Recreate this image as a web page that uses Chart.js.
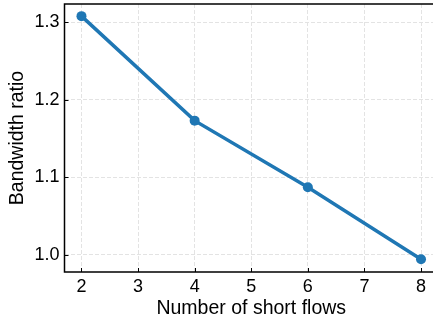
<!DOCTYPE html>
<html>
<head>
<meta charset="utf-8">
<script src="https://cdn.jsdelivr.net/npm/chart.js@4"></script>
<style>
  html, body { margin: 0; padding: 0; overflow: hidden; background: #fff; }
  #wrap { width: 433px; height: 320px; overflow: hidden; }
  canvas { display: block; }
</style>
</head>
<body>
<div id="wrap"><canvas id="flow_chart" width="440" height="320"></canvas></div>
<script>
// data
var shortFlows = [2, 4, 6, 8];
var bandwidthRatio = [1.308, 1.173, 1.087, 0.994];
var xTicks = [2, 3, 4, 5, 6, 7, 8];
var yTicks = [1.0, 1.1, 1.2, 1.3];

var lineColor = '#1f77b4';
var font = 'Arial, "Liberation Sans", sans-serif';

// inward ticks + the box spines, drawn from the chart's own scales
var framePlugin = {
  id: 'frame',
  afterDraw: function (chart) {
    var c = chart.ctx, a = chart.chartArea;
    var xs = chart.scales.x, ys = chart.scales.y;
    c.save();
    c.strokeStyle = '#000';
    c.lineWidth = 1;
    xTicks.forEach(function (v) {
      var px = Math.round(xs.getPixelForValue(v)) + 0.5;
      c.beginPath(); c.moveTo(px, a.bottom); c.lineTo(px, a.bottom - 4); c.stroke();
    });
    yTicks.forEach(function (v) {
      var py = Math.round(ys.getPixelForValue(v)) + 0.5;
      c.beginPath(); c.moveTo(a.left, py); c.lineTo(a.left + 4, py); c.stroke();
    });
    c.lineWidth = 1.5;
    c.beginPath();
    c.rect(a.left, a.top, a.right - a.left, a.bottom - a.top);
    c.stroke();
    c.restore();
  }
};

function noPad(s) {
  s.paddingTop = 0; s.paddingBottom = 0; s.paddingLeft = 0; s.paddingRight = 0;
}

var ctx = document.getElementById('flow_chart').getContext('2d');
var myChart = new Chart(ctx, {
  type: 'line',
  data: {
    datasets: [{
      data: shortFlows.map(function (x, i) { return { x: x, y: bandwidthRatio[i] }; }),
      borderColor: lineColor,
      backgroundColor: lineColor,
      borderWidth: 3.5,
      pointRadius: 5,
      pointBorderWidth: 0,
      fill: false,
      tension: 0
    }]
  },
  options: {
    responsive: false,
    animation: false,
    layout: { autoPadding: false, padding: { top: 4, right: 2, left: 0, bottom: 0 } },
    plugins: {
      legend: { display: false },
      tooltip: { enabled: false }
    },
    scales: {
      x: {
        type: 'linear',
        min: 1.7,
        max: 8.3,
        afterBuildTicks: function (s) { s.ticks = xTicks.map(function (v) { return { value: v }; }); },
        afterFit: function (s) { s.height = 48; noPad(s); },
        grid: { color: '#e3e3e3', lineWidth: 1, drawTicks: false },
        border: { display: false, dash: [4, 2] },
        ticks: {
          color: '#000',
          font: { family: font, size: 18 },
          padding: 4,
          maxRotation: 0,
          callback: function (v) { return String(v); }
        },
        title: {
          display: true,
          text: 'Number of short flows',
          color: '#000',
          font: { family: font, size: 19.5 },
          padding: { top: 0, bottom: 0 }
        }
      },
      y: {
        min: 0.9775,
        max: 1.3237,
        afterBuildTicks: function (s) { s.ticks = yTicks.map(function (v) { return { value: v }; }); },
        afterFit: function (s) { s.width = 64.5; noPad(s); },
        grid: { color: '#e3e3e3', lineWidth: 1, drawTicks: false },
        border: { display: false, dash: [4, 2] },
        ticks: {
          color: '#000',
          font: { family: font, size: 18 },
          padding: 5,
          callback: function (v) { return v.toFixed(1); }
        },
        title: {
          display: true,
          text: 'Bandwidth ratio',
          color: '#000',
          font: { family: font, size: 19.5 },
          padding: { top: 6, bottom: 2 }
        }
      }
    }
  },
  plugins: [framePlugin]
});
</script>
</body>
</html>
